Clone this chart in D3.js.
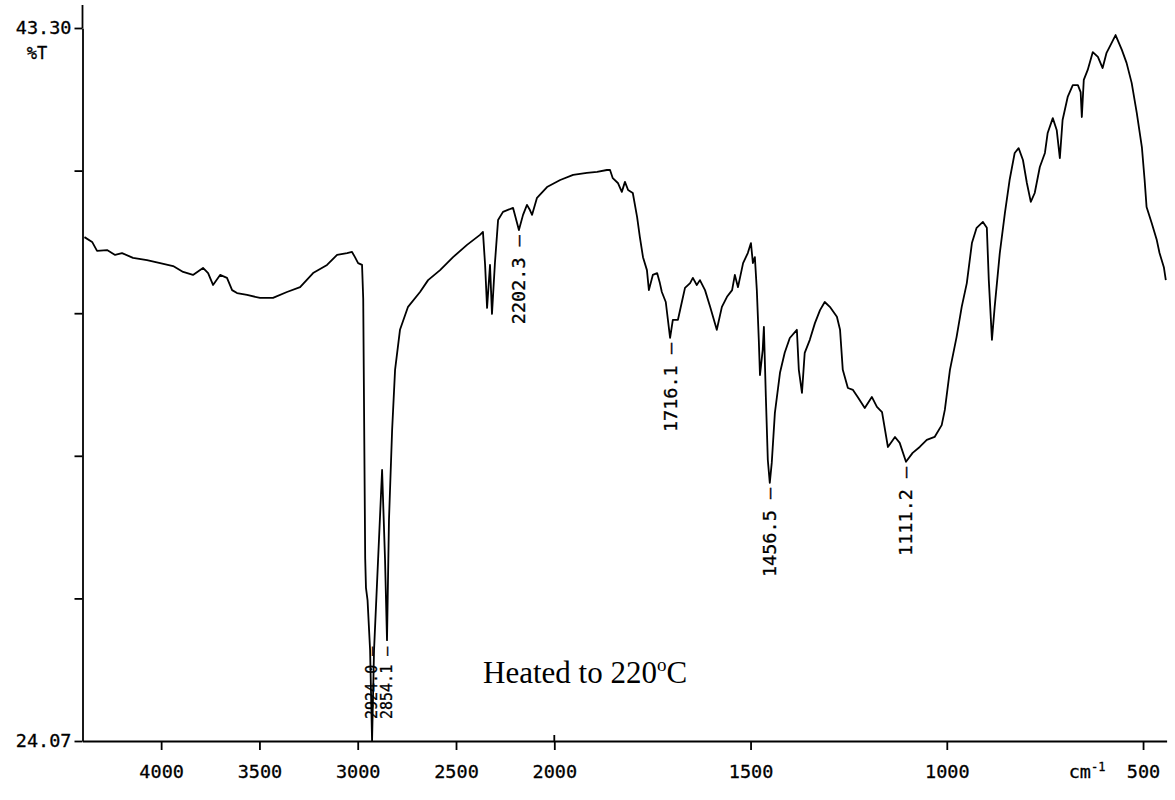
<!DOCTYPE html>
<html>
<head>
<meta charset="utf-8">
<script src="https://cdn.jsdelivr.net/npm/d3@7"></script>
<style>
  body { margin: 0; background: #fff; }
  .axis text { font-family: "DejaVu Sans Mono", monospace; font-size: 18.5px; fill: #000; stroke: #000; stroke-width: 0.3; }
  .axis path, .axis line { stroke: #000; stroke-width: 1.8; }
  .mono { font-family: "DejaVu Sans Mono", monospace; stroke: #000; stroke-width: 0.3; }
</style>
</head>
<body>
<script>
const W = 1175, H = 800;

// IR spectrum, [wavenumber cm-1, %T]
const spectrum = [
  [4390, 37.66], [4351, 37.53], [4326, 37.29], [4275, 37.31], [4234, 37.18], [4199, 37.23],
  [4143, 37.10], [4072, 37.04], [4005, 36.96], [3939, 36.88], [3888, 36.72], [3838, 36.64],
  [3787, 36.83], [3761, 36.69], [3736, 36.37], [3700, 36.64], [3665, 36.56], [3639, 36.23],
  [3614, 36.15], [3563, 36.10], [3497, 36.02], [3431, 36.02], [3360, 36.18], [3293, 36.31],
  [3227, 36.69], [3156, 36.91], [3105, 37.18], [3054, 37.23], [3029, 37.26], [3014, 37.12],
  [2998, 36.96], [2978, 36.91], [2972, 36.00], [2962, 29.00], [2958, 28.20], [2950, 27.87],
  [2937, 26.52], [2927, 24.07], [2917, 26.52], [2876, 31.38], [2861, 28.95], [2851, 26.79],
  [2841, 30.03], [2825, 32.46], [2810, 34.08], [2785, 35.16], [2744, 35.78], [2683, 36.18],
  [2642, 36.50], [2581, 36.77], [2515, 37.12], [2444, 37.45], [2378, 37.72], [2363, 37.80],
  [2352, 36.91], [2342, 35.75], [2327, 36.91], [2317, 35.59], [2302, 36.96], [2286, 38.12],
  [2261, 38.34], [2210, 38.45], [2180, 37.85], [2159, 38.26], [2139, 38.53], [2124, 38.39],
  [2113, 38.26], [2088, 38.72], [2037, 39.01], [1985, 39.20], [1952, 39.34], [1917, 39.39],
  [1891, 39.42], [1866, 39.47], [1858, 39.47], [1851, 39.25], [1838, 39.12], [1828, 38.88],
  [1820, 39.15], [1812, 38.93], [1800, 38.85], [1789, 38.20], [1782, 37.66], [1774, 37.12],
  [1764, 36.77], [1759, 36.23], [1749, 36.64], [1738, 36.69], [1731, 36.42], [1726, 36.18],
  [1716, 35.91], [1705, 34.94], [1698, 35.43], [1685, 35.43], [1675, 35.91], [1667, 36.29],
  [1654, 36.42], [1647, 36.56], [1637, 36.37], [1629, 36.50], [1616, 36.23], [1603, 35.78],
  [1586, 35.16], [1573, 35.78], [1560, 36.05], [1547, 36.23], [1540, 36.64], [1532, 36.31],
  [1519, 36.96], [1507, 37.23], [1499, 37.50], [1494, 36.96], [1489, 37.12], [1484, 36.23],
  [1479, 34.89], [1476, 33.94], [1469, 34.62], [1466, 35.24], [1461, 33.35], [1456, 31.65],
  [1451, 31.03], [1446, 31.57], [1438, 32.92], [1425, 34.00], [1413, 34.54], [1400, 34.94],
  [1382, 35.16], [1377, 34.08], [1369, 33.46], [1362, 34.54], [1349, 34.89], [1336, 35.34],
  [1323, 35.69], [1311, 35.91], [1298, 35.78], [1280, 35.51], [1272, 35.16], [1265, 34.08],
  [1252, 33.59], [1239, 33.54], [1227, 33.35], [1209, 33.05], [1191, 33.35], [1178, 33.08],
  [1165, 32.94], [1150, 32.00], [1132, 32.27], [1120, 32.11], [1104, 31.60], [1087, 31.84],
  [1069, 32.00], [1051, 32.19], [1031, 32.27], [1013, 32.59], [1005, 33.00], [992, 34.08],
  [975, 34.97], [962, 35.78], [949, 36.42], [936, 37.50], [924, 37.91], [908, 38.07],
  [898, 37.91], [893, 36.50], [885, 34.89], [878, 35.78], [865, 37.23], [852, 38.31],
  [840, 39.20], [827, 39.93], [817, 40.06], [806, 39.74], [796, 39.12], [786, 38.61],
  [776, 38.85], [763, 39.55], [750, 39.93], [743, 40.47], [730, 40.87], [720, 40.55],
  [712, 39.79], [705, 40.82], [692, 41.44], [679, 41.76], [666, 41.76], [659, 41.57],
  [656, 40.90], [651, 41.90], [641, 42.17], [628, 42.65], [615, 42.52], [603, 42.22],
  [593, 42.63], [580, 42.90], [570, 43.11], [554, 42.71], [542, 42.36], [529, 41.82],
  [516, 41.01], [503, 40.09], [496, 39.20], [491, 38.47], [478, 38.04], [465, 37.58],
  [458, 37.23], [447, 36.85], [442, 36.50]
];

const xTicks = [4000, 3500, 3000, 2500, 2000, 1500, 1000, 500];
const yTop = 43.30, yBottom = 24.07;
const yTickLabels = ["43.30", "24.07"];
const peakLabels = ["2924.0", "2854.1", "2202.3", "1716.1", "1456.5", "1111.2"];
const note = "Heated to 220";

const svg = d3.select("body").append("svg")
    .attr("width", W)
    .attr("height", H);

// x axis is compressed 2x above 2000 cm-1, like the instrument plot
const x = d3.scaleLinear()
    .domain([4400, 2000, 440])
    .range([82.5, 554.3, 1166.6]);

const y = d3.scaleLinear()
    .domain([yBottom, yTop])
    .range([741, 28]);

// X axis
const xAxis = svg.append("g")
    .attr("class", "axis")
    .attr("transform", `translate(0, ${y(yBottom)})`)
    .call(d3.axisBottom(x).tickValues(xTicks).tickSize(9).tickSizeOuter(0).tickPadding(15).tickFormat(d3.format("d")));

// little cross at 2000 where the scale changes
xAxis.append("line")
    .attr("x1", x(2000)).attr("x2", x(2000))
    .attr("y1", 0).attr("y2", -6);

// cm-1 unit label
svg.append("text")
    .attr("class", "mono")
    .attr("x", 1087)
    .attr("y", 778)
    .attr("text-anchor", "middle")
    .style("font-size", "18.5px")
    .text("cm")
    .append("tspan")
    .attr("dy", -7)
    .style("font-size", "12px")
    .text("-1");

// Y axis: 5 equal divisions, only ends labelled
const yTicks = d3.range(6).map(i => yTop - i * (yTop - yBottom) / 5);
svg.append("g")
    .attr("class", "axis")
    .attr("transform", `translate(${x(4400)}, 0)`)
    .call(d3.axisLeft(y).tickValues(yTicks).tickSize(8).tickSizeOuter(0).tickPadding(3)
        .tickFormat((d, i) => i === 0 ? yTickLabels[0] : (i === 5 ? yTickLabels[1] : "")));

svg.append("line")
    .attr("x1", x(4400)).attr("x2", x(4400))
    .attr("y1", 5).attr("y2", y(yTop))
    .attr("stroke", "#000").attr("stroke-width", 1.8);

svg.append("text")
    .attr("class", "mono")
    .attr("x", 37)
    .attr("y", 53)
    .attr("dy", "0.35em")
    .attr("text-anchor", "middle")
    .style("font-size", "17px")
    .text("%T");

// spectrum line
const line = d3.line()
    .x(d => x(d[0]))
    .y(d => y(d[1]));

svg.append("path")
    .datum(spectrum)
    .attr("fill", "none")
    .attr("stroke", "#000")
    .attr("stroke-width", 1.8)
    .attr("stroke-linejoin", "round")
    .attr("d", line);

// peak labels: sit under the nearest minimum of the trace
peakLabels.forEach(lbl => {
  const wn = +lbl;
  const near = spectrum.filter(d => Math.abs(d[0] - wn) <= 30);
  const low = near.reduce((a, b) => (b[1] < a[1] ? b : a));
  let fs = 18.5;
  const txt = lbl + " \u2013";
  let top = y(low[1]) + 5;
  let len = txt.length * 0.602 * fs;
  if (top + len > y(yBottom) - 20) {
    fs = 15;
    len = txt.length * 0.602 * fs;
    top = y(yBottom) - 22 - len;
  }
  svg.append("text")
      .attr("class", "mono")
      .attr("transform", `translate(${x(low[0])}, ${top}) rotate(-90)`)
      .attr("dy", "0.35em")
      .attr("text-anchor", "end")
      .style("font-size", fs + "px")
      .text(txt);
});

// annotation
const t = svg.append("text")
    .attr("x", 483)
    .attr("y", 683)
    .style("font-family", "Liberation Serif, serif")
    .style("font-size", "31px")
    .text(note);
t.append("tspan").attr("dy", -12).style("font-size", "19px").text("o");
t.append("tspan").attr("dy", 12).text("C");
</script>
</body>
</html>
